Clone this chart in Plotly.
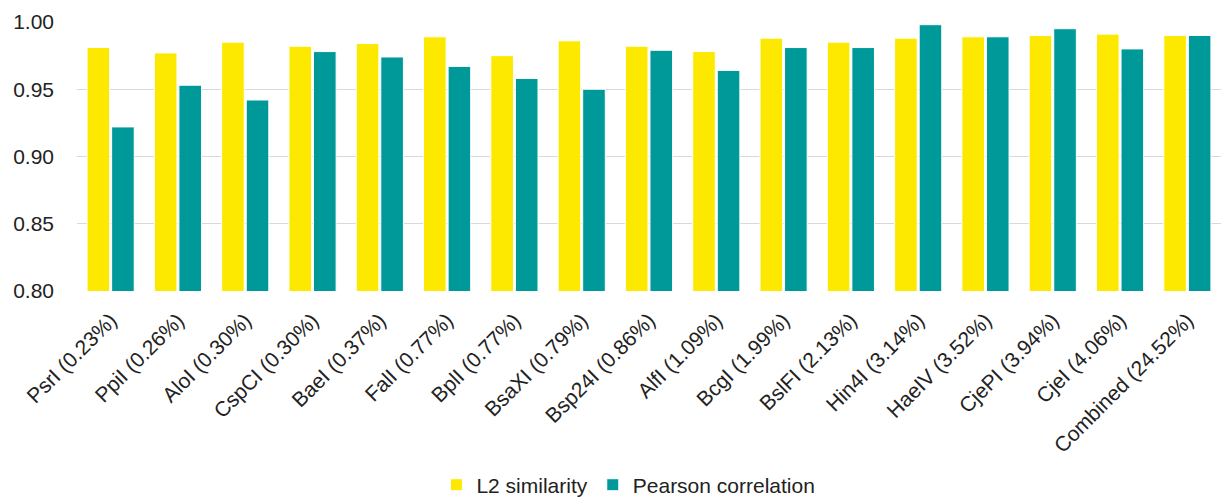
import plotly.graph_objects as go

categories = [
    "PsrI (0.23%)", "PpiI (0.26%)", "AloI (0.30%)", "CspCI (0.30%)", "BaeI (0.37%)",
    "FalI (0.77%)", "BplI (0.77%)", "BsaXI (0.79%)", "Bsp24I (0.86%)", "AlfI (1.09%)",
    "BcgI (1.99%)", "BslFI (2.13%)", "Hin4I (3.14%)", "HaeIV (3.52%)", "CjePI (3.94%)",
    "CjeI (4.06%)", "Combined (24.52%)",
]
l2_similarity = [
    0.981, 0.977, 0.985, 0.982, 0.984, 0.989, 0.975, 0.986, 0.982, 0.978,
    0.988, 0.985, 0.988, 0.989, 0.990, 0.991, 0.990,
]
pearson_correlation = [
    0.922, 0.953, 0.942, 0.978, 0.974, 0.967, 0.958, 0.950, 0.979, 0.964,
    0.981, 0.981, 0.998, 0.989, 0.995, 0.980, 0.990,
]
y_ticks = [0.80, 0.85, 0.90, 0.95, 1.00]

FONT = "Liberation Sans, Arial, sans-serif"

fig = go.Figure()
fig.add_trace(go.Bar(
    name="L2 similarity", x=categories, y=l2_similarity,
    marker=dict(color="#FDE900", line=dict(color="#FFFFFF", width=1)),
))
fig.add_trace(go.Bar(
    name="Pearson correlation", x=categories, y=pearson_correlation,
    marker=dict(color="#009999", line=dict(color="#FFFFFF", width=1)),
))

fig.update_layout(
    width=1221, height=497,
    margin=dict(l=77, r=0, t=22, b=206, autoexpand=False),
    paper_bgcolor="white", plot_bgcolor="white",
    barmode="group", bargap=0.27, bargroupgap=0.08,
    font=dict(family=FONT, size=21, color="#222222"),
    showlegend=True,
    legend=dict(
        orientation="h", xref="paper", x=0.482, xanchor="center",
        yref="container", y=0.024, yanchor="middle",
        font=dict(family=FONT, size=21, color="#222222"),
        itemwidth=30, traceorder="normal",
    ),
    xaxis=dict(
        tickangle=-45, tickfont=dict(size=21), showgrid=False, automargin=False,
        showline=False, ticks="", ticklabelstandoff=12,
    ),
    yaxis=dict(
        range=[0.80, 1.00], tickvals=y_ticks, ticktext=[f"{v:.2f}" for v in y_ticks],
        showgrid=True, gridcolor="#D9D9D9", gridwidth=1.3, automargin=False,
        zeroline=False, showline=False, ticks="", ticklabelstandoff=22,
        tickfont=dict(size=21),
    ),
)

fig.write_html("out.html")
